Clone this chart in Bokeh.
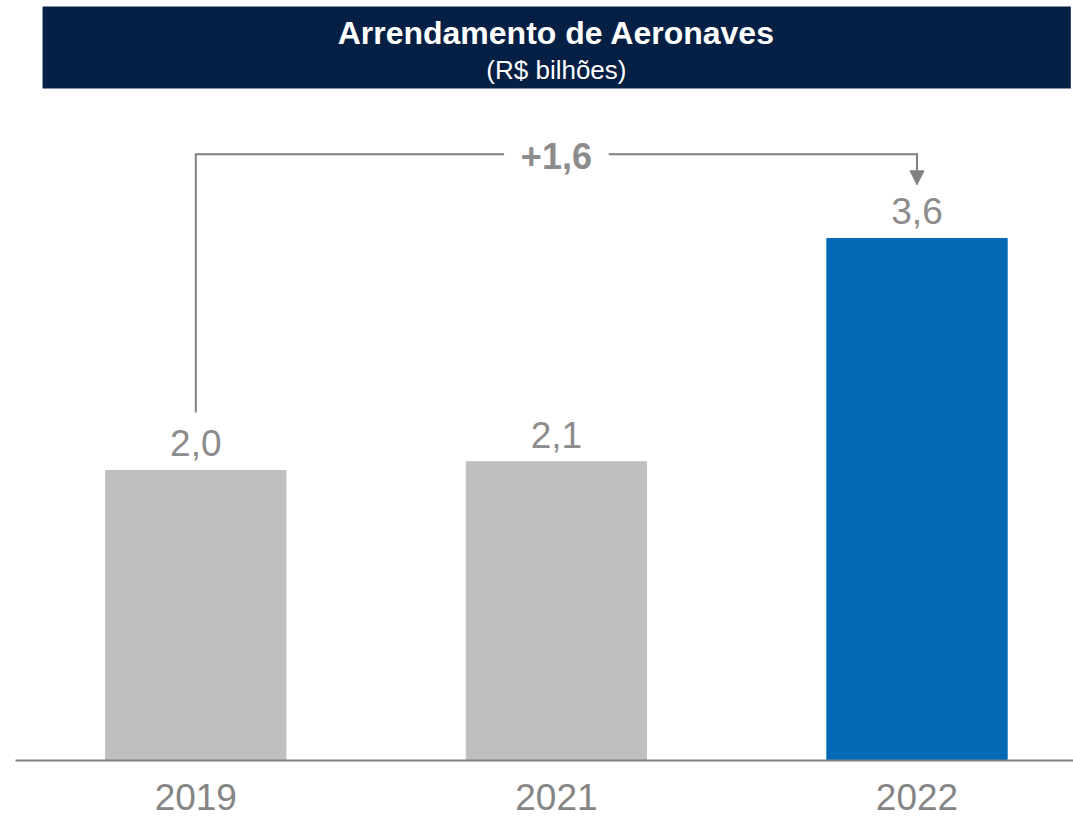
from bokeh.plotting import figure
from bokeh.models import (Range1d, ColumnDataSource, LabelSet, Label, BoxAnnotation,
                          Arrow, NormalHead, FixedTicker)
from bokeh.core.properties import value
from bokeh.embed import file_html
from bokeh.resources import INLINE

# ---- data ----
years = ["2019", "2021", "2022"]
values = [2.0, 2.06, 3.6]
bar_colors = ["#BFBFBF", "#BFBFBF", "#046AB5"]
value_labels = ["2,0", "2,1", "3,6"]
delta_label = "+1,6"
title_text = "Arrendamento de Aeronaves"
subtitle_text = "(R$ bilhões)"

FONT = "Liberation Sans"
GRAY_TXT = "#8C8C8C"
LINE_GRAY = "#808080"
NAVY = "#051F45"

xs = list(range(len(years)))
src = ColumnDataSource(dict(x=xs, top=values, color=bar_colors, label=value_labels))

Y_END = 5.241
p = figure(width=1073, height=816,
           x_range=Range1d(-0.5, 2.434), y_range=Range1d(0, Y_END),
           output_backend="svg", toolbar_location=None,
           y_axis_location=None,
           min_border_left=15, min_border_right=0, min_border_top=0, min_border_bottom=56)
p.outline_line_color = None
p.xgrid.visible = False
p.ygrid.visible = False
p.background_fill_color = "white"
p.border_fill_color = "white"

p.vbar(x="x", top="top", width=0.5, color="color", source=src)

p.add_layout(LabelSet(x="x", y="top", text="label", source=src, y_offset=14,
                      text_align="center", text_baseline="alphabetic",
                      text_font=value(FONT), text_font_size=value("37px"),
                      text_color=GRAY_TXT))

# x axis
ax = p.xaxis[0]
ax.ticker = FixedTicker(ticks=xs)
ax.major_label_overrides = {i: y for i, y in zip(xs, years)}
ax.major_label_text_font = FONT
ax.major_label_text_font_size = "37px"
ax.major_label_text_color = "#858585"
ax.major_tick_line_color = None
ax.minor_tick_line_color = None
ax.major_tick_out = 0
ax.major_label_standoff = 23
ax.axis_line_color = LINE_GRAY
ax.axis_line_width = 2

# bracket from first to last bar
x0, x2 = xs[0], xs[-1]
xm = (x0 + x2) / 2
bracket_y = max(values) + 0.58
gap = 0.145
p.line(x=[x0, x0, xm - gap], y=[values[0] + 0.4, bracket_y, bracket_y],
       line_color=LINE_GRAY, line_width=2, line_join="miter")
p.line(x=[xm + gap, x2], y=[bracket_y, bracket_y],
       line_color=LINE_GRAY, line_width=2, line_join="miter")
p.add_layout(Arrow(x_start=x2, y_start=bracket_y + 0.007, x_end=x2, y_end=values[-1] + 0.37,
                   line_color=LINE_GRAY, line_width=2,
                   end=NormalHead(size=14, fill_color=LINE_GRAY, line_color=LINE_GRAY, line_width=1)))
p.add_layout(Label(x=xm, y=bracket_y, text=delta_label, text_align="center",
                   text_baseline="middle", y_offset=-2, text_font=FONT, text_font_size="36px",
                   text_font_style="bold", text_color=GRAY_TXT))

# header band
p.add_layout(BoxAnnotation(left=-0.425, right=2.4265, top=5.2, bottom=4.634,
                           fill_color=NAVY, fill_alpha=1.0, line_color=None, level="underlay"))
p.add_layout(Label(x=xm, y=5.014, text=title_text, text_align="center",
                   text_baseline="alphabetic", text_font=FONT, text_font_size="32px",
                   text_font_style="bold", text_color="white"))
p.add_layout(Label(x=xm, y=4.765, text=subtitle_text, text_align="center",
                   text_baseline="alphabetic", text_font=FONT, text_font_size="26px",
                   text_color="white"))

open("out.html", "w").write(file_html(p, INLINE))
